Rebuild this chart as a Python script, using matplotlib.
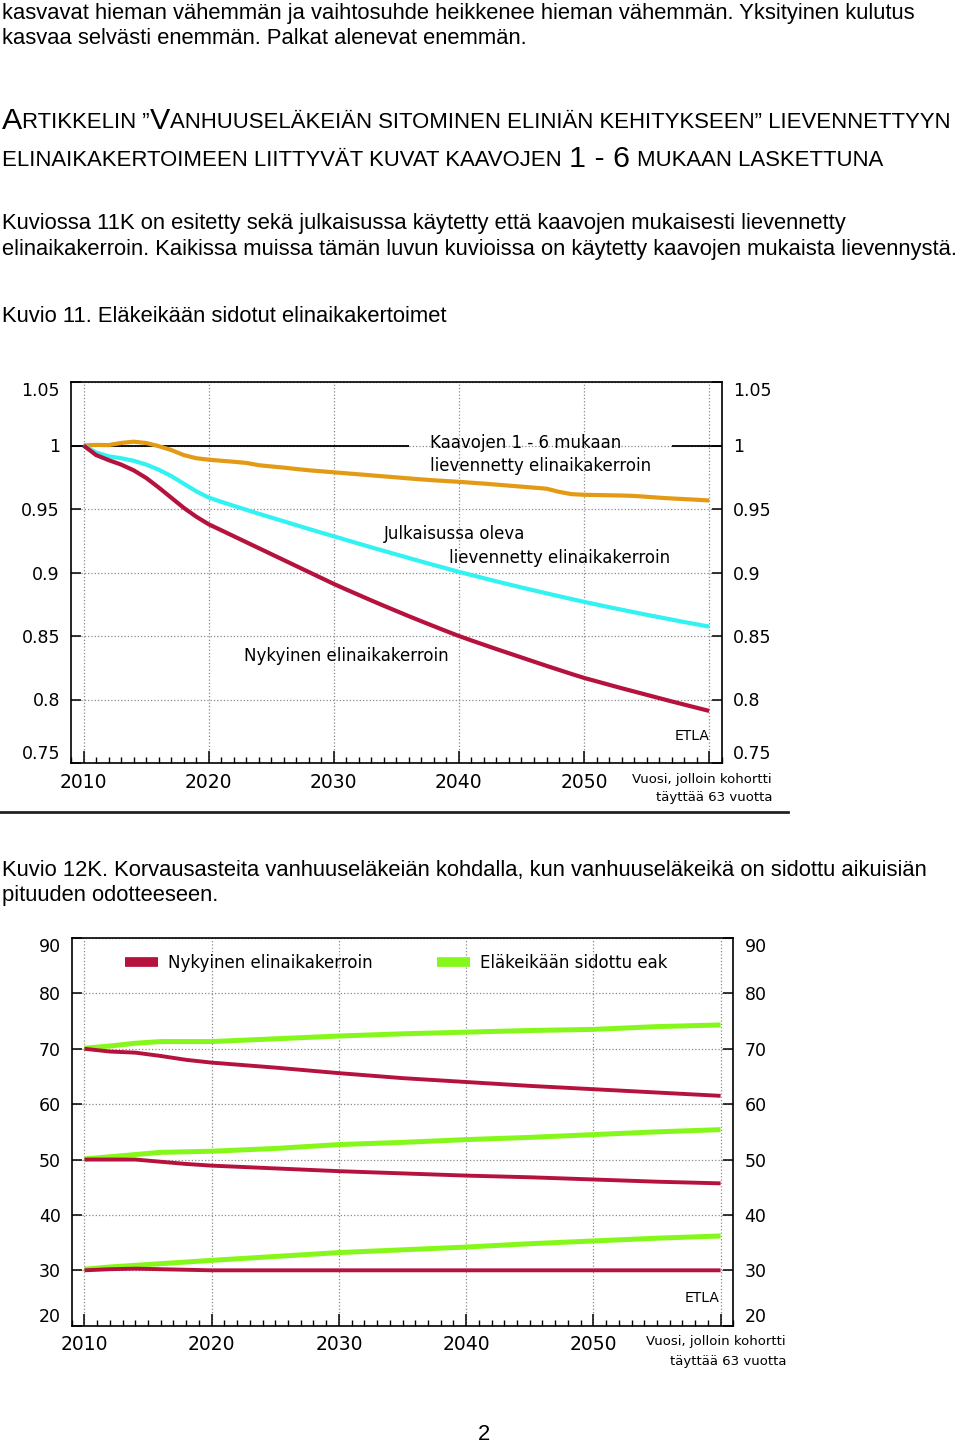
import matplotlib
matplotlib.use('Agg')
import matplotlib.pyplot as plt
from matplotlib.lines import Line2D
from matplotlib.ticker import MultipleLocator

# Kuvio 11: eläkeikään sidotut elinaikakertoimet
years = list(range(2010, 2061))
kaavat = [1.0000, 1.0005, 1.0003, 1.0020, 1.0030, 1.0020, 0.9995, 0.9965, 0.9925, 0.9900,
          0.9888, 0.9880, 0.9872, 0.9863, 0.9845, 0.9835, 0.9826, 0.9815, 0.9805, 0.9797,
          0.9789, 0.9781, 0.9773, 0.9765, 0.9757, 0.9749, 0.9741, 0.9733, 0.9726, 0.9720,
          0.9714, 0.9707, 0.9700, 0.9692, 0.9684, 0.9676, 0.9668, 0.9660, 0.9635, 0.9617,
          0.9612, 0.9610, 0.9608, 0.9606, 0.9603, 0.9596, 0.9589, 0.9583, 0.9578, 0.9573,
          0.9567]
julkaisu = [1.0000, 0.9945, 0.9915, 0.9900, 0.9880, 0.9850, 0.9810, 0.9760, 0.9700, 0.9640,
            0.9590, 0.9557, 0.9525, 0.9494, 0.9463, 0.9433, 0.9403, 0.9373, 0.9343, 0.9314,
            0.9285, 0.9256, 0.9227, 0.9198, 0.9170, 0.9142, 0.9114, 0.9086, 0.9059, 0.9032,
            0.9005, 0.8980, 0.8955, 0.8930, 0.8906, 0.8882, 0.8859, 0.8836, 0.8813, 0.8791,
            0.8769, 0.8748, 0.8727, 0.8707, 0.8687, 0.8667, 0.8648, 0.8629, 0.8610, 0.8592,
            0.8574]
nykyinen = [1.0000, 0.9925, 0.9885, 0.9850, 0.9805, 0.9745, 0.9670, 0.9590, 0.9510, 0.9440,
            0.9380, 0.9333, 0.9286, 0.9239, 0.9192, 0.9145, 0.9098, 0.9051, 0.9004, 0.8957,
            0.8910, 0.8866, 0.8823, 0.8780, 0.8738, 0.8697, 0.8656, 0.8616, 0.8577, 0.8538,
            0.8500, 0.8465, 0.8431, 0.8397, 0.8364, 0.8331, 0.8298, 0.8265, 0.8233, 0.8201,
            0.8170, 0.8143, 0.8116, 0.8089, 0.8063, 0.8037, 0.8011, 0.7985, 0.7960, 0.7935,
            0.7910]

# Kuvio 12K: korvausasteita
years2 = [2010, 2012, 2014, 2016, 2018, 2020, 2025, 2030, 2035, 2040, 2045, 2050, 2055, 2060]
eak_70 = [70.1, 70.5, 71.0, 71.3, 71.3, 71.3, 71.8, 72.3, 72.7, 73.0, 73.3, 73.5, 74.0, 74.3]
nyk_70 = [70.0, 69.5, 69.3, 68.7, 68.0, 67.5, 66.6, 65.6, 64.7, 64.0, 63.3, 62.7, 62.1, 61.5]
eak_50 = [50.1, 50.5, 50.9, 51.3, 51.4, 51.5, 52.0, 52.7, 53.1, 53.6, 54.0, 54.5, 55.0, 55.4]
nyk_50 = [50.0, 50.0, 50.0, 49.6, 49.2, 48.9, 48.4, 47.9, 47.5, 47.1, 46.8, 46.4, 46.0, 45.7]
eak_30 = [30.2, 30.6, 30.9, 31.2, 31.5, 31.8, 32.5, 33.2, 33.7, 34.2, 34.8, 35.3, 35.8, 36.2]
nyk_30 = [30.0, 30.2, 30.3, 30.2, 30.1, 30.0, 30.0, 30.0, 30.0, 30.0, 30.0, 30.0, 30.0, 30.0]

xticks = [2010, 2020, 2030, 2040, 2050, 2060]
xlabels = ['2010', '2020', '2030', '2040', '2050', '']
yticks1 = [0.75, 0.8, 0.85, 0.9, 0.95, 1.0, 1.05]
ylabels1 = ['0.75', '0.8', '0.85', '0.9', '0.95', '1', '1.05']
yticks2 = [20, 30, 40, 50, 60, 70, 80, 90]

ORANGE = '#E39A14'
CYAN = '#33F2F2'
RED = '#B5123E'
GREEN = '#86F71A'

plt.rcParams['font.family'] = ['DejaVu Sans']
BODY = 'Liberation Sans'
BODY_SIZE = 15.8

W, H = 960, 1444
fig = plt.figure(figsize=(W / 100, H / 100), dpi=100)


def fy(px):
    return 1 - px / H


def fx(px):
    return px / W


def style_axes(ax, yticks, ylabels):
    ax.set_xlim(2009, 2061)
    ax.set_xticks(xticks)
    ax.set_xticklabels(xlabels, fontsize=13.5)
    ax.xaxis.set_minor_locator(MultipleLocator(1))
    ax.set_yticks(yticks)
    ax.set_yticklabels(ylabels, fontsize=12.5)
    ax.tick_params(axis='x', which='major', direction='in', length=9, width=1.1, pad=7, top=False)
    ax.tick_params(axis='x', which='minor', direction='in', length=4, width=1, top=False)
    ax.tick_params(axis='y', which='major', direction='in', length=7, width=1.1,
                   left=True, right=True, labelleft=True, labelright=True, pad=8)
    ax.grid(True, which='major', linestyle=':', color='#8a8a8a', lw=0.9)
    for s in ax.spines.values():
        s.set_linewidth(1.2)
    ticks = ax.yaxis.get_major_ticks()
    for lab in (ticks[0].label1, ticks[0].label2):
        lab.set_va('bottom')
    for lab in (ticks[-1].label1, ticks[-1].label2):
        lab.set_va('top')


# ---- page text ----
fig.text(fx(2), fy(14), 'kasvavat hieman vähemmän ja vaihtosuhde heikkenee hieman vähemmän. Yksityinen kulutus',
         fontsize=BODY_SIZE, family=BODY, va='center')
fig.text(fx(2), fy(39), 'kasvaa selvästi enemmän. Palkat alenevat enemmän.',
         fontsize=BODY_SIZE, family=BODY, va='center')

tx = fig.add_axes([0, 0, 1, 1])
tx.set_axis_off()


def caps_line(parts, x, y):
    prev = None
    prev_size = None
    for text, size, gap in parts:
        if prev is None:
            prev = tx.text(x, y, text, fontsize=size, family=BODY, va='bottom',
                           transform=fig.transFigure)
        else:
            off = 0.21 * (prev_size - size)
            prev = tx.annotate(text, xy=(1, 0), xycoords=prev, xytext=(gap, off),
                               textcoords='offset points', fontsize=size, family=BODY,
                               va='bottom', ha='left')
        prev_size = size


caps_line([('A', 21.9, 0), ('RTIKKELIN ”', 15.9, 0), ('V', 21.9, 0),
           ('ANHUUSELÄKEIÄN SITOMINEN ELINIÄN KEHITYKSEEN” LIEVENNETTYYN', 15.9, 0)],
          fx(2), fy(135))
caps_line([('ELINAIKAKERTOIMEEN LIITTYVÄT KUVAT KAAVOJEN', 15.9, 0), ('1 - 6', 21.9, 5),
           ('MUKAAN LASKETTUNA', 15.9, 5)],
          fx(2), fy(171))

fig.text(fx(2), fy(224), 'Kuviossa 11K on esitetty sekä julkaisussa käytetty että kaavojen mukaisesti lievennetty',
         fontsize=BODY_SIZE, family=BODY, va='center')
fig.text(fx(2), fy(249), 'elinaikakerroin. Kaikissa muissa tämän luvun kuvioissa on käytetty kaavojen mukaista lievennystä.',
         fontsize=BODY_SIZE, family=BODY, va='center')
fig.text(fx(2), fy(316), 'Kuvio 11. Eläkeikään sidotut elinaikakertoimet',
         fontsize=BODY_SIZE, family=BODY, va='center')
fig.text(fx(2), fy(871), 'Kuvio 12K. Korvausasteita vanhuuseläkeiän kohdalla, kun vanhuuseläkeikä on sidottu aikuisiän',
         fontsize=BODY_SIZE, family=BODY, va='center')
fig.text(fx(2), fy(896), 'pituuden odotteeseen.', fontsize=BODY_SIZE, family=BODY, va='center')
fig.text(fx(484), fy(1434), '2', fontsize=BODY_SIZE, family=BODY, va='center', ha='center')

# ---- Kuvio 11 ----
ax1 = fig.add_axes([fx(71), fy(763), fx(721.7) - fx(71), fy(382) - fy(763)])
ax1.set_ylim(0.75, 1.05)
style_axes(ax1, yticks1, ylabels1)
ax1.hlines(1.0, 2009, 2036, color='black', lw=1.3, zorder=2)
ax1.hlines(1.0, 2057, 2061, color='black', lw=1.3, zorder=2)
ax1.plot(years, kaavat, color=ORANGE, lw=3, solid_capstyle='butt', zorder=3)
ax1.plot(years, julkaisu, color=CYAN, lw=3, solid_capstyle='butt', zorder=3)
ax1.plot(years, nykyinen, color=RED, lw=3, solid_capstyle='butt', zorder=3)

ax1.text(2037.7, 1.0016, 'Kaavojen 1 - 6 mukaan', fontsize=12, va='center')
ax1.text(2037.7, 0.9835, 'lievennetty elinaikakerroin', fontsize=12, va='center')
ax1.text(2034.0, 0.930, 'Julkaisussa oleva', fontsize=12, va='center')
ax1.text(2039.2, 0.9118, 'lievennetty elinaikakerroin', fontsize=12, va='center')
ax1.text(2022.8, 0.8339, 'Nykyinen elinaikakerroin', fontsize=12, va='center')
ax1.text(2060, 0.771, 'ETLA', fontsize=10, va='center', ha='right')

fig.text(fx(772), fy(779), 'Vuosi, jolloin kohortti', fontsize=9.5, ha='right', va='center')
fig.text(fx(772), fy(797), 'täyttää 63 vuotta', fontsize=9.5, ha='right', va='center')
fig.add_artist(Line2D([0, fx(788)], [fy(812), fy(812)], color='#222222', lw=2))

# ---- Kuvio 12K ----
ax2 = fig.add_axes([fx(71.7), fy(1325.7), fx(733.3) - fx(71.7), fy(938) - fy(1325.7)])
ax2.set_ylim(20, 90)
style_axes(ax2, yticks2, [str(v) for v in yticks2])
for eak, nyk in [(eak_70, nyk_70), (eak_50, nyk_50), (eak_30, nyk_30)]:
    ax2.plot(years2, eak, color=GREEN, lw=3.6, solid_capstyle='butt', zorder=3)
    ax2.plot(years2, nyk, color=RED, lw=2.8, solid_capstyle='butt', zorder=4)

handles = [Line2D([], [], color=RED, lw=7, solid_capstyle='butt'),
           Line2D([], [], color=GREEN, lw=7, solid_capstyle='butt')]
ax2.legend(handles, ['Nykyinen elinaikakerroin', 'Eläkeikään sidottu eak'],
           loc='center left', bbox_to_anchor=(0.0806, 0.9355), ncol=2, frameon=False,
           fontsize=12, handlelength=2.0, handletextpad=0.6, columnspacing=3.85,
           borderpad=0, borderaxespad=0)
ax2.text(2059.9, 24.95, 'ETLA', fontsize=10, va='center', ha='right')

fig.text(fx(786), fy(1342), 'Vuosi, jolloin kohortti', fontsize=9.5, ha='right', va='center')
fig.text(fx(786), fy(1361), 'täyttää 63 vuotta', fontsize=9.5, ha='right', va='center')

fig.savefig('out.png', dpi=100)
